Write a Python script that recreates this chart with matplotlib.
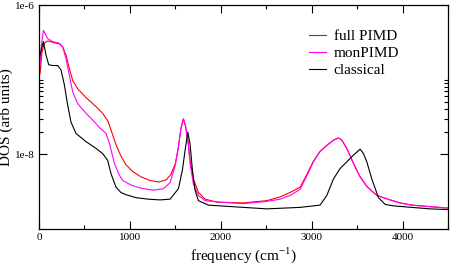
"""DOS spectra: full PIMD, monomer PIMD and classical, on a log axis."""

import matplotlib

matplotlib.use("Agg")
import matplotlib.pyplot as plt
import numpy as np
from matplotlib.ticker import FixedFormatter, FixedLocator, MultipleLocator

plt.rcParams["font.family"] = ["Liberation Serif", "DejaVu Serif"]

# Values: frequency in cm^-1, DOS as log10(arb units).
full_freq = [11, 33, 58, 96, 151, 223, 260, 297, 333, 370, 425, 517, 627,
             700, 760, 810, 850, 900, 957, 1030, 1120, 1221, 1320, 1400,
             1450, 1500, 1533, 1560, 1588, 1613, 1643, 1661, 1698, 1753,
             1826, 1955, 2245, 2505, 2650, 2761, 2871, 2945, 3018, 3091,
             3165, 3238, 3293, 3330, 3385, 3458, 3531, 3605, 3715, 3861,
             3971, 4100, 4300, 4500]
full_log = [-6.92, -6.63, -6.51, -6.48, -6.50, -6.52, -6.56, -6.67, -6.85,
            -7.01, -7.12, -7.24, -7.36, -7.45, -7.56, -7.74, -7.88, -8.02,
            -8.14, -8.23, -8.30, -8.35, -8.37, -8.34, -8.27, -8.12, -7.90,
            -7.66, -7.53, -7.63, -7.86, -8.08, -8.33, -8.51, -8.60, -8.64,
            -8.65, -8.62, -8.57, -8.51, -8.44, -8.27, -8.09, -7.96, -7.88,
            -7.81, -7.78, -7.81, -7.92, -8.12, -8.30, -8.43, -8.55, -8.61,
            -8.65, -8.68, -8.70, -8.72]

mon_freq = [11, 25, 48, 96, 151, 223, 260, 297, 333, 370, 425, 517, 590,
            664, 737, 774, 829, 880, 920, 1010, 1111, 1258, 1368, 1441,
            1496, 1533, 1560, 1588, 1613, 1643, 1661, 1698, 1753, 1826,
            1991, 2245, 2505, 2650, 2761, 2871, 2945, 3018, 3091, 3165,
            3238, 3293, 3330, 3385, 3458, 3531, 3605, 3715, 3861, 3971,
            4100, 4300, 4500]
mon_log = [-6.80, -6.55, -6.34, -6.45, -6.49, -6.51, -6.56, -6.72, -6.94,
           -7.16, -7.32, -7.45, -7.54, -7.64, -7.72, -7.85, -8.12, -8.27,
           -8.35, -8.41, -8.45, -8.48, -8.46, -8.38, -8.16, -7.90, -7.65,
           -7.52, -7.63, -7.88, -8.12, -8.40, -8.55, -8.62, -8.64, -8.66,
           -8.63, -8.60, -8.55, -8.47, -8.29, -8.10, -7.96, -7.88, -7.81,
           -7.78, -7.81, -7.92, -8.12, -8.30, -8.43, -8.55, -8.61, -8.65,
           -8.68, -8.70, -8.72]

cl_freq = [11, 48, 77, 107, 151, 206, 242, 279, 315, 352, 407, 517, 627,
           700, 755, 792, 847, 900, 957, 1067, 1200, 1331, 1441, 1533, 1577,
           1606, 1636, 1661, 1687, 1716, 1753, 1863, 1991, 2505, 2871, 3091,
           3165, 3238, 3311, 3385, 3458, 3531, 3568, 3605, 3660, 3733, 3806,
           3898, 4100, 4300, 4500]
cl_log = [-6.67, -6.49, -6.67, -6.80, -6.81, -6.81, -6.87, -7.07, -7.34,
          -7.57, -7.72, -7.83, -7.92, -7.99, -8.08, -8.26, -8.44, -8.51,
          -8.54, -8.58, -8.60, -8.61, -8.60, -8.46, -8.21, -7.95, -7.70,
          -7.86, -8.21, -8.48, -8.62, -8.68, -8.69, -8.73, -8.71, -8.68,
          -8.55, -8.33, -8.19, -8.10, -8.01, -7.93, -7.99, -8.10, -8.33,
          -8.58, -8.67, -8.69, -8.71, -8.73, -8.74]

series = [
    ("full PIMD", full_freq, full_log, "#ff0000"),
    ("monPIMD", mon_freq, mon_log, "#ff00ff"),
    ("classical", cl_freq, cl_log, "#000000"),
]

x_major = [0, 1000, 2000, 3000, 4000]
y_major = [1e-8, 1e-6]
y_major_labels = ["1e-8", "1e-6"]
y_minor = [2e-8, 3e-8, 4e-8, 5e-8, 6e-8, 7e-8, 8e-8, 9e-8, 1e-7]


def main():
    fig = plt.figure(figsize=(4.5, 2.66), dpi=100)
    ax = fig.add_axes([0.0867, 0.139, 0.9093, 0.842])

    for label, freq, logvals, color in series:
        ax.plot(freq, 10 ** np.asarray(logvals), color=color, lw=0.8,
                label=label)

    ax.set_yscale("log")
    ax.set_xlim(0, 4500)
    ax.set_ylim(1e-9, 1e-6)

    ax.xaxis.set_major_locator(FixedLocator(x_major))
    ax.xaxis.set_minor_locator(MultipleLocator(500))
    ax.yaxis.set_major_locator(FixedLocator(y_major))
    ax.yaxis.set_major_formatter(FixedFormatter(y_major_labels))
    ax.yaxis.set_minor_locator(FixedLocator(y_minor))
    ax.yaxis.set_minor_formatter(FixedFormatter([""] * len(y_minor)))

    ax.tick_params(which="both", direction="in", top=True, right=True,
                   width=0.8, labelsize=8, pad=3)
    ax.tick_params(which="major", length=6)
    ax.tick_params(which="minor", length=3)
    for spine in ax.spines.values():
        spine.set_linewidth(0.9)

    ax.set_xlabel("frequency (cm$^{\\mathregular{-1}}$)", fontsize=11,
                  labelpad=2)
    ax.set_ylabel("DOS (arb units)", fontsize=11)
    ax.yaxis.set_label_coords(-0.064, 0.5)

    ax.legend(loc="upper left", bbox_to_anchor=(0.66, 0.89), frameon=False,
              fontsize=11, handlelength=1.1, handletextpad=0.5,
              labelspacing=0.2, borderpad=0, borderaxespad=0)

    fig.savefig("out.png", dpi=100)


if __name__ == "__main__":
    main()
